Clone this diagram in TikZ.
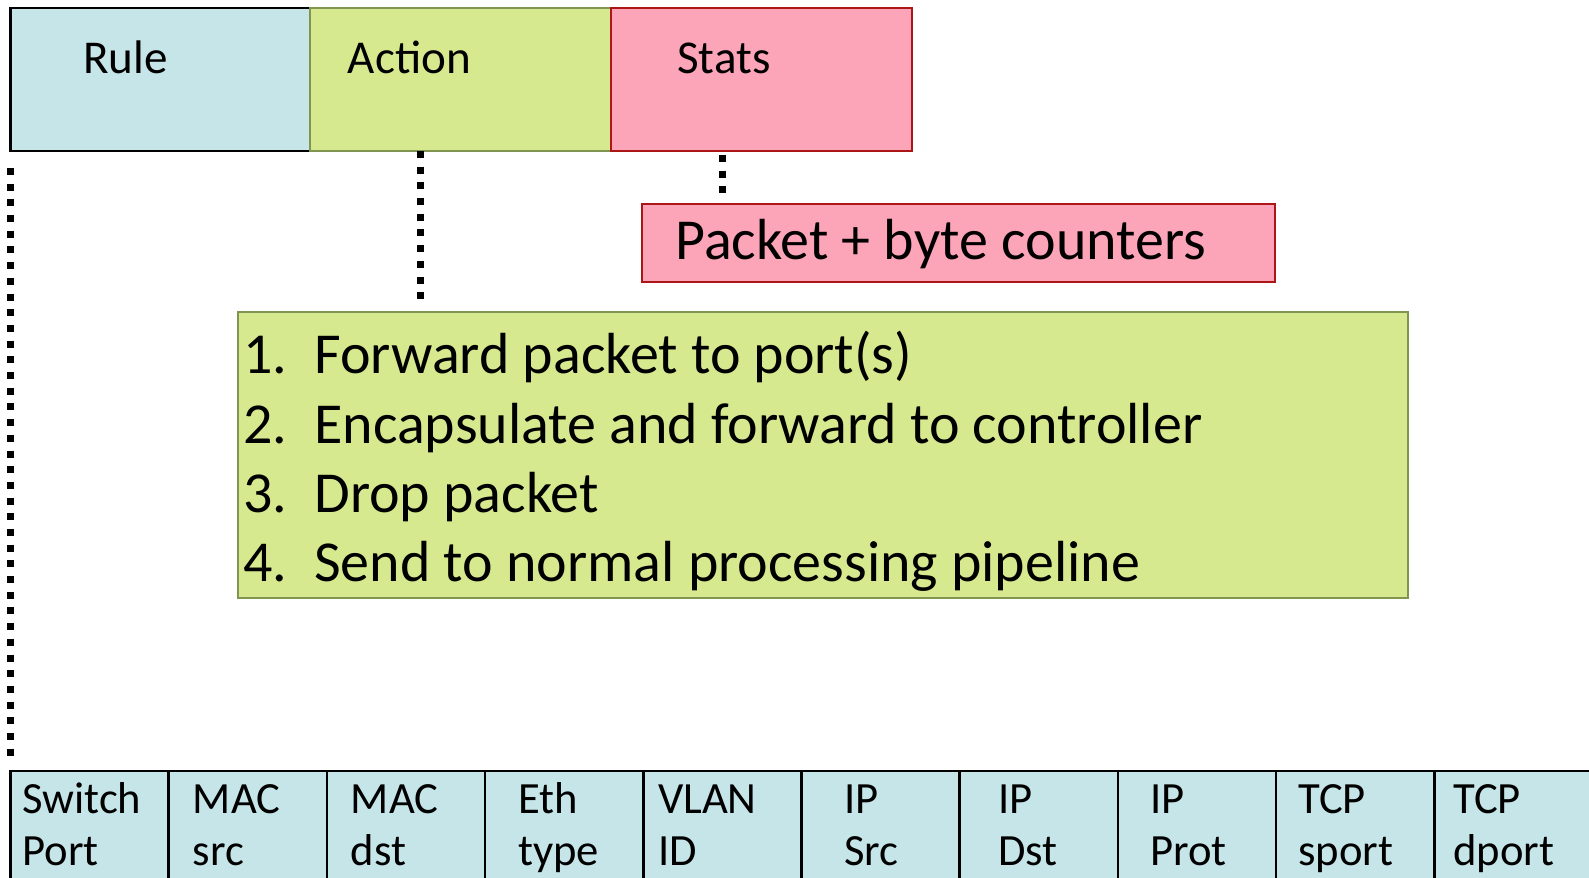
\documentclass[tikz,border=0pt]{standalone}
\usepackage{fontspec}
\setmainfont{Carlito}
\usetikzlibrary{positioning}

\begin{document}
\begin{tikzpicture}[
    x=0.02cm, y=-0.02cm,
    box/.style={draw, line width=1.1pt, inner sep=0pt, outer sep=0pt, anchor=north west},
    lbl/.style={inner sep=0pt, anchor=base west},
    toplbl/.style={lbl, font=\fontsize{26.8pt}{31pt}\selectfont},
    biglbl/.style={lbl, font=\fontsize{33pt}{39pt}\selectfont},
    fieldlbl/.style={lbl, font=\fontsize{25.4pt}{30pt}\selectfont},
    field/.style={box, fill=c_field, line width=1.5pt, minimum width=3.164cm, minimum height=2.5cm},
    dots/.style={line width=0.14cm, dash pattern=on 0.14cm off 0.174cm}
]

    % Colores
    \definecolor{c_field}{RGB}{197, 229, 232}
    \definecolor{c_green}{RGB}{215, 233, 143}
    \definecolor{c_olive}{RGB}{128, 150, 80}
    \definecolor{c_pink}{RGB}{252, 164, 184}
    \definecolor{c_red}{RGB}{172, 22, 22}

    \useasboundingbox (0,0) rectangle (1589,878);
    \clip (0,0) rectangle (1589,878);

    % Entrada de la tabla
    \node[box, fill=c_field, draw=black, line width=1.3pt, minimum width=5.99cm, minimum height=2.86cm] (rule) at (10.5,8) {};
    \node[box, fill=c_green, draw=c_olive, minimum width=6.02cm, minimum height=2.86cm] (action) at (310,8) {};
    \node[box, fill=c_pink, draw=c_red, minimum width=6.02cm, minimum height=2.86cm] (stats) at (611,8) {};

    \node[toplbl] (ruleT) at (83,73.5) {Rule};
    \node[toplbl] (actionT) at (347.5,73.5) {Action};
    \node[toplbl] (statsT) at (677,73.5) {Stats};

    % Contadores
    \node[box, fill=c_pink, draw=c_red, minimum width=12.66cm, minimum height=1.56cm] (packet) at (642,204) {};
    \node[biglbl] (packetT) at (675,260) {Packet + byte counters};

    % Acciones
    \node[box, fill=c_green, draw=c_olive, minimum width=23.41cm, minimum height=5.72cm] (actlist) at (238,312) {};
    \foreach \n/\t in {1/Forward packet to port(s),
                       2/Encapsulate and forward to controller,
                       3/Drop packet,
                       4/Send to normal processing pipeline} {
        \node[biglbl] (num\n) at (243, {374+69*(\n-1)}) {\n.};
        \node[biglbl] (item\n) at (314, {374+69*(\n-1)}) {\t};
    }

    % Campos de la regla
    \foreach \i/\a/\b/\x in {1/Switch/Port/22, 2/MAC/src/192.5, 3/MAC/dst/350.6,
                             4/Eth/type/517.8, 5/VLAN/ID/657.7, 6/IP/Src/844,
                             7/IP/Dst/998, 8/IP/Prot/1150, 9/TCP/sport/1298,
                             10/TCP/dport/1453} {
        \node[field] (f\i) at ({10.5+158.2*(\i-1)},771) {};
        \node[fieldlbl] (f\i-top) at (\x,813) {\a};
        \node[fieldlbl] (f\i-bot) at (\x,865) {\b};
    }

    % --- CONEXIONES punteadas ---
    \coordinate (actdrop) at (420.5,151);
    \coordinate (statdrop) at (722.5,151);

    \draw[dots, shorten <=0.34cm, shorten >=0.22cm] (rule.south west) -- (rule.south west |- f1.north);
    \draw[dots, shorten >=0.22cm] (actdrop) -- (actdrop |- actlist.north);
    \draw[dots, shorten <=0.08cm, shorten >=0.14cm] (statdrop) -- (statdrop |- packet.north);

\end{tikzpicture}
\end{document}
